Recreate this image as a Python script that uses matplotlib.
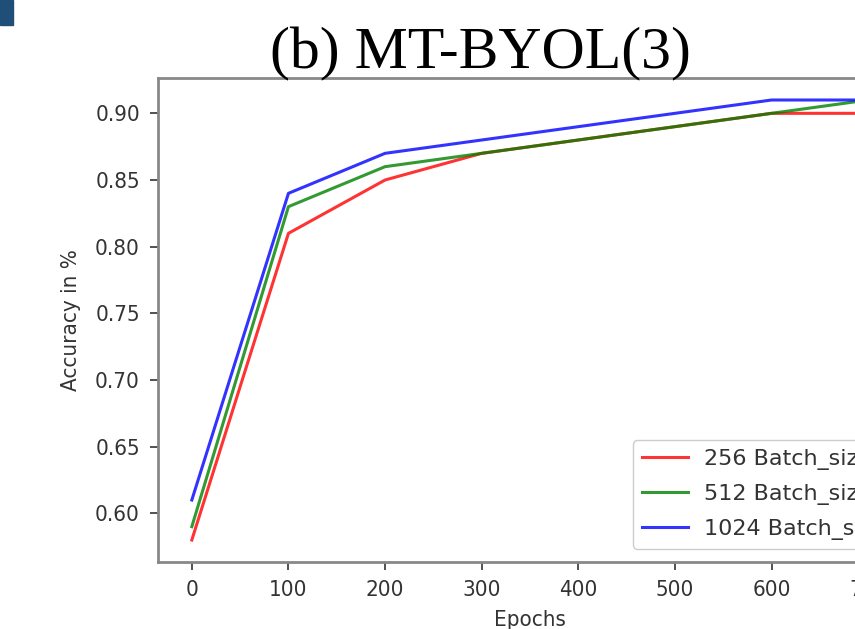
import matplotlib
matplotlib.use('Agg')
import matplotlib.pyplot as plt
from matplotlib.patches import Rectangle

#%% data

epochs = [0, 100, 200, 300, 400, 500, 600, 700]
acc_256 = [0.58, 0.81, 0.85, 0.87, 0.88, 0.89, 0.90, 0.90]
acc_512 = [0.59, 0.83, 0.86, 0.87, 0.88, 0.89, 0.90, 0.91]
acc_1024 = [0.61, 0.84, 0.87, 0.88, 0.89, 0.90, 0.91, 0.91]
labels = ['256 Batch_size', '512 Batch_size', '1024 Batch_size']

#%% plot

plt.rcParams['font.family'] = 'DejaVu Sans'
plt.rcParams['font.stretch'] = 'condensed'

W, H = 855, 629
fig = plt.figure(figsize=(W / 100, H / 100), dpi=100)

# axes runs past the right edge, the picture is a crop
left, right, top, bottom = 158, 902, 78, 562
ax = fig.add_axes([left / W, 1 - bottom / H, (right - left) / W, (bottom - top) / H])

ax.plot(epochs, acc_256, color='red', alpha=0.8, linewidth=2.2, label=labels[0])
ax.plot(epochs, acc_512, color='green', alpha=0.8, linewidth=2.2, label=labels[1])
ax.plot(epochs, acc_1024, color='blue', alpha=0.8, linewidth=2.2, label=labels[2])

ax.set_xlabel('Epochs', fontsize=16, color='#333333', labelpad=7)
ax.set_ylabel('Accuracy in %', fontsize=16, color='#333333', labelpad=10)
ax.tick_params(labelsize=16, length=6, width=1.2, colors='#333333', pad=7)
ax.set_yticks([0.60, 0.65, 0.70, 0.75, 0.80, 0.85, 0.90])
for s in ax.spines.values():
    s.set_color('#888888')
    s.set_linewidth(2)

ax.legend(loc='lower right', bbox_to_anchor=(1.008, 0.0),
          prop={'family': 'DejaVu Sans', 'stretch': 'normal', 'size': 16},
          handlelength=2.1, handletextpad=0.7, labelspacing=0.62,
          framealpha=1, borderaxespad=0.6, labelcolor='#333333')

fig.text(480 / W, 1 - 68 / H, '(b) MT-BYOL(3)', family='Liberation Serif',
         fontsize=43, ha='center', va='baseline')

fig.patches.append(Rectangle((0, 1 - 25 / H), 13 / W, 25 / H,
                             transform=fig.transFigure, color='#1f4e79'))

fig.savefig('out.png', dpi=100)
